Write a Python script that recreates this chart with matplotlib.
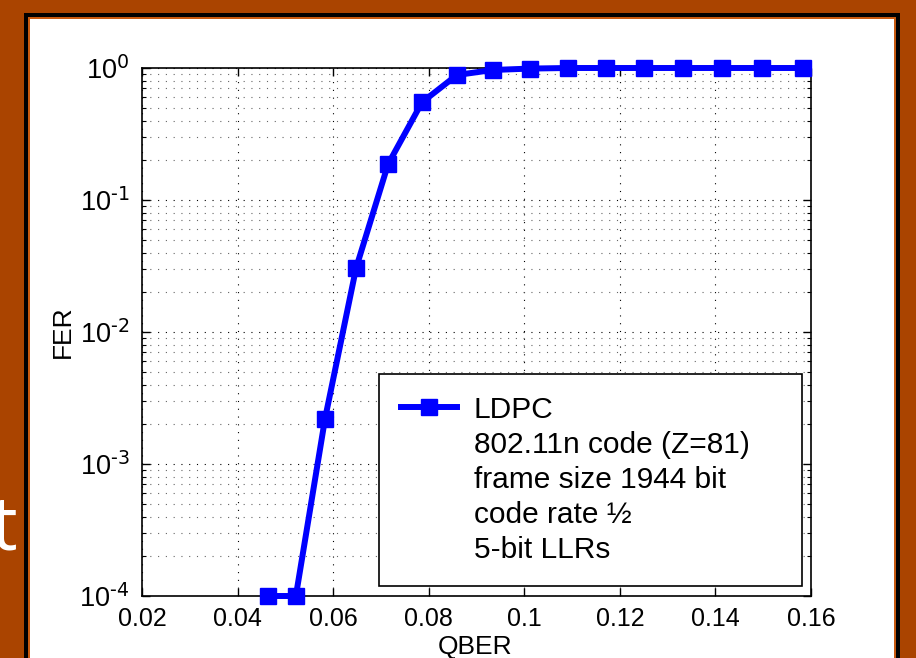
import numpy as np
import matplotlib
matplotlib.use("Agg")
import matplotlib.pyplot as plt
from matplotlib.lines import Line2D
from matplotlib.patches import Rectangle
from matplotlib.ticker import LogLocator

plt.rcParams['font.family'] = ['Liberation Sans', 'DejaVu Sans']
plt.rcParams['mathtext.default'] = 'regular'
plt.rcParams['axes.unicode_minus'] = False

# --------------------------
# Data
# --------------------------
qber = [0.0464, 0.0522, 0.0583, 0.0648, 0.0715, 0.0786, 0.0859, 0.0934,
        0.1012, 0.1091, 0.1171, 0.1250, 0.1332, 0.1413, 0.1497, 0.1583]
fer = [1e-4, 1e-4, 2.2e-3, 3.05e-2, 0.187, 0.55, 0.885, 0.966,
       0.99, 1.0, 1.0, 1.0, 1.0, 1.0, 1.0, 1.0]
xticks = [0.02, 0.04, 0.06, 0.08, 0.1, 0.12, 0.14, 0.16]
yexp = [-4, -3, -2, -1, 0]
legend_lines = ["LDPC", "802.11n code (Z=81)", "frame size 1944 bit",
                "code rate \u00bd", "5-bit LLRs"]

W, H = 916, 658
fig = plt.figure(figsize=(W / 100, H / 100), dpi=100)
fig.patch.set_facecolor('#AA4400')

def px_rect(x0, y0, x1, y1, color):
    # rectangle in pixel coords, origin top-left
    fig.patches.append(Rectangle((x0 / W, 1 - y1 / H), (x1 - x0) / W, (y1 - y0) / H,
                                 transform=fig.transFigure, facecolor=color,
                                 edgecolor='none', zorder=-5))

# slide frame
px_rect(24, 13, 900, H + 5, 'black')
px_rect(28, 17, 896, H + 5, '#C85A10')
px_rect(30, 19, 894, H + 5, 'white')

# cut-off slide text on the left edge
fig.text(17 / W, 1 - 530 / H, "t", color='white', fontsize=54,
         family=['Open Sans', 'DejaVu Sans'], ha='right', va='center')

ax = fig.add_axes([142 / W, 1 - 596 / H, (811 - 142) / W, (596 - 68) / H])
ax.set_facecolor('white')

ax.semilogy(qber, fer, color='#0000FF', linewidth=4.3, marker='s',
            markersize=11, markerfacecolor='#0000FF', markeredgecolor='#0000FF',
            clip_on=False, zorder=5)

ax.set_xlim(0.02, 0.16)
ax.set_ylim(1e-4, 1)
ax.set_xticks(xticks)
ax.set_xticklabels([f"{v:g}" for v in xticks])
ax.set_yticks([10.0 ** e for e in yexp])
ax.set_yticklabels([f"$10^{{\\text{{{e}}}}}$" for e in yexp])
ax.yaxis.set_minor_locator(LogLocator(base=10, subs=np.arange(2, 10), numticks=20))

ax.grid(True, which='major', linestyle=(0, (1, 6)), color='black', linewidth=0.8)
ax.grid(True, which='minor', axis='y', linestyle=(0, (1, 6)), color='#666666', linewidth=0.8)

ax.tick_params(which='both', direction='in', top=True, right=True)
ax.tick_params(which='major', length=6, width=1)
ax.tick_params(which='minor', length=3, width=0.8)
ax.tick_params(axis='x', labelsize=18, pad=8)
ax.tick_params(axis='y', labelsize=19.5, pad=9)
for s in ax.spines.values():
    s.set_linewidth(1.2)

ax.set_xlabel("QBER", fontsize=19)
ax.set_ylabel("FER", fontsize=19)
ax.xaxis.set_label_coords((475 - 142) / 669, -(647 - 596) / 528)
ax.yaxis.set_label_coords((63 - 142) / 669, (596 - 332) / 528)
ax.xaxis.label.set_va('center')
ax.yaxis.label.set_va('center')

blank = Line2D([], [], linestyle='none')
handles = [Line2D([], [], color='#0000FF', linewidth=4.3, marker='s', markersize=11)] + [blank] * 4
leg = ax.legend(handles, legend_lines, loc='lower left', mode='expand',
                bbox_to_anchor=((379 - 142) / 669, (596 - 586) / 528, (802 - 379) / 669, 0.1),
                fontsize=21.5, frameon=True,
                fancybox=False, edgecolor='black', framealpha=1,
                labelspacing=0.24, handlelength=1.9, handletextpad=0.55,
                borderpad=0.72, borderaxespad=0)
leg.get_frame().set_linewidth(1.2)
leg.set_zorder(10)

fig.savefig("out.png", dpi=100, facecolor=fig.get_facecolor())
